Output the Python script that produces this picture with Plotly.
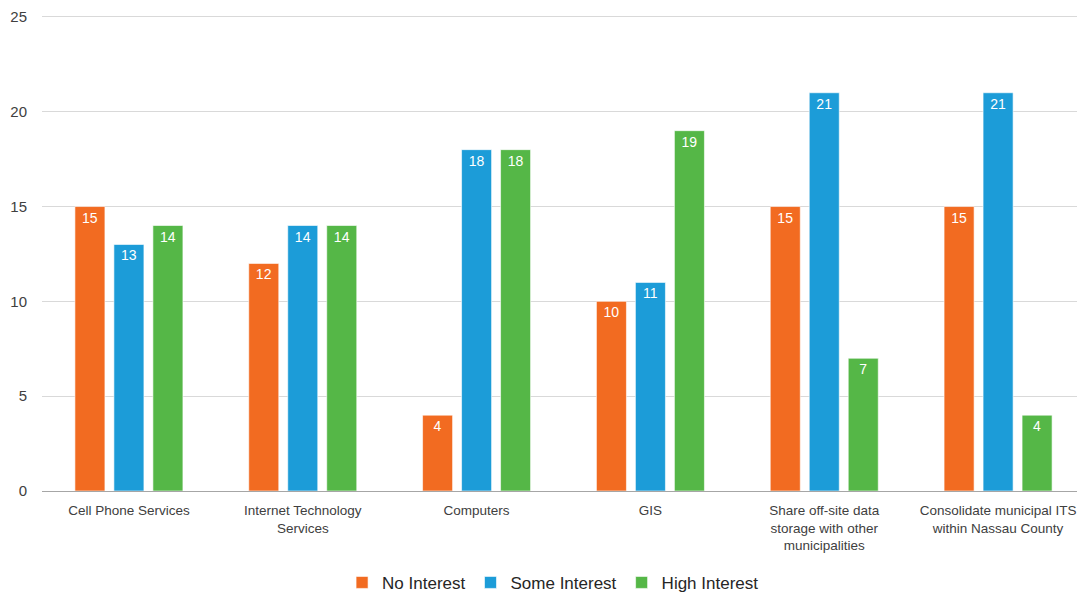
import plotly.graph_objects as go

categories = [
    "Cell Phone Services",
    "Internet Technology<br>Services",
    "Computers",
    "GIS",
    "Share off-site data<br>storage with other<br>municipalities",
    "Consolidate municipal ITS<br>within Nassau County",
]
no_interest = [15, 12, 4, 10, 15, 15]
some_interest = [13, 14, 18, 11, 21, 21]
high_interest = [14, 14, 18, 19, 7, 4]
series_names = ["No Interest", "Some Interest", "High Interest"]
colors = ["#F26B21", "#1C9CD8", "#55B747"]

fig = go.Figure()
for name, vals, col in zip(series_names, [no_interest, some_interest, high_interest], colors):
    fig.add_trace(go.Bar(
        x=categories, y=vals, name=name,
        marker=dict(color=col, line=dict(color="rgba(255,255,255,0.6)", width=1)),
        text=[str(v) for v in vals], textposition="inside", insidetextanchor="end",
        textfont=dict(color="white", size=14, family="Liberation Sans"),
        textangle=0, cliponaxis=False,
    ))

fig.update_layout(
    width=1077, height=589,
    margin=dict(l=34, r=0, t=5, b=106),
    barmode="group", bargap=0.327, bargroupgap=0.23,
    plot_bgcolor="white", paper_bgcolor="white",
    font=dict(family="Liberation Sans", color="#404040", size=14),
    showlegend=True,
    legend=dict(orientation="h", x=0.49, xanchor="center", yref="container", y=0.024,
                yanchor="middle",
                font=dict(size=17, color="#262626"), traceorder="normal", itemwidth=30),
    uniformtext=dict(minsize=8, mode="show"),
)
fig.update_yaxes(range=[0, 25.1], tickvals=[0, 5, 10, 15, 20, 25], showgrid=True,
                 gridcolor="#D9D9D9", gridwidth=1, ticklabeloverflow="allow",
                 zeroline=False, ticks="", ticklabelstandoff=14,
                 tickfont=dict(size=15, color="#404040"))
fig.update_xaxes(showline=True, linecolor="#A6A6A6", linewidth=1, ticks="",
                 ticklabelstandoff=7,
                 tickfont=dict(size=13.5, color="#404040"))

fig.write_html("out.html")
